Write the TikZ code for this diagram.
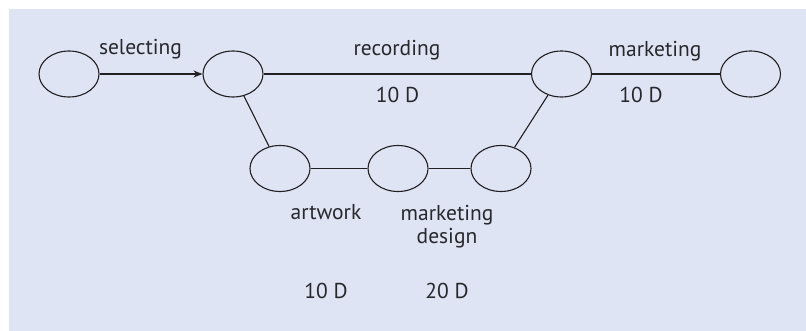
\documentclass[tikz,border=0pt]{standalone}
\usepackage{fontspec}
\setmainfont{PT Sans}
\usetikzlibrary{shapes.geometric,arrows.meta}
\definecolor{panel}{RGB}{223,228,245}
\definecolor{ink}{RGB}{35,31,32}
\definecolor{txt}{RGB}{40,40,42}
\begin{document}
\begin{tikzpicture}[x=1pt,y=-1pt,
  event/.style={draw=ink,line width=1.1pt,ellipse,minimum width=60pt,minimum height=46pt,inner sep=0pt},
  link/.style={draw=ink,line width=1.1pt},
  lbl/.style={text=txt,font=\fontsize{21.5}{25}\selectfont,inner sep=0pt,align=center}]
\useasboundingbox (0,0) rectangle (806,331);
\fill[panel] (9,9) rectangle (806,331);
% events
\node[event] (e1) at (69,74) {};
\node[event] (e2) at (233,74) {};
\node[event] (e3) at (561.5,74) {};
\node[event] (e4) at (750.5,74) {};
\node[event] (e5) at (280,168.5) {};
\node[event] (e6) at (398,168.5) {};
\node[event] (e7) at (501,168.5) {};
% activities
\draw[link,-{Stealth[length=9pt,width=7pt]}] (e1) -- (e2);
\draw[link] (e2) -- (e3);
\draw[link] (e3) -- (e4);
\draw[link] (e2) -- (e5);
\draw[link] (e5) -- (e6);
\draw[link] (e6) -- (e7);
\draw[link] (e7) -- (e3);
% labels
\node[lbl] (l1) at (140.5,49) {selecting};
\node[lbl] (l2) at (397,50) {recording};
\node[lbl] (l3) at (397.5,95) {10 D};
\node[lbl] (l4) at (655,51) {marketing};
\node[lbl] (l5) at (641,95) {10 D};
\node[lbl] (l6) at (326,212) {artwork};
\node[lbl] (l7) at (447,226.5) {marketing\\[-2pt]design};
\node[lbl] (l8) at (326,290.5) {10 D};
\node[lbl] (l9) at (447,290.5) {20 D};
\end{tikzpicture}
\end{document}
